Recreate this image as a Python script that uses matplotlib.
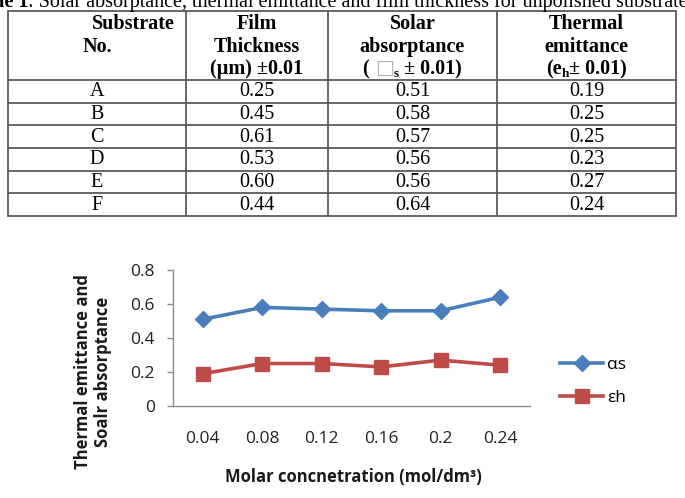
import matplotlib
matplotlib.use("Agg")
import matplotlib.pyplot as plt

# ---- data ----
substrates = ["A", "B", "C", "D", "E", "F"]
thickness = ["0.25", "0.45", "0.61", "0.53", "0.60", "0.44"]
absorptance_txt = ["0.51", "0.58", "0.57", "0.56", "0.56", "0.64"]
emittance_txt = ["0.19", "0.25", "0.25", "0.23", "0.27", "0.24"]

concentrations = ["0.04", "0.08", "0.12", "0.16", "0.2", "0.24"]
alpha_s = [0.51, 0.58, 0.57, 0.56, 0.56, 0.64]
eps_h = [0.19, 0.25, 0.25, 0.23, 0.27, 0.24]
yticks = [0, 0.2, 0.4, 0.6, 0.8]
ytick_labels = ["0", "0.2", "0.4", "0.6", "0.8"]

W, H = 685, 498
fig = plt.figure(figsize=(W / 100, H / 100), dpi=100)
fig.patch.set_facecolor("white")

tax = fig.add_axes([0, 0, 1, 1])
tax.set_xlim(0, W)
tax.set_ylim(H, 0)
tax.axis("off")

SERIF = ["Liberation Serif", "DejaVu Serif"]
FS = 14.5
renderer = fig.canvas.get_renderer()


def seg_text(xc, yb, segments):
    """segments: list of (text, dict(kwargs), dy)"""
    objs = []
    widths = []
    for s, kw, dy in segments:
        t = tax.text(0, yb + dy, s, va="baseline", ha="left", **kw)
        objs.append(t)
        widths.append(t.get_window_extent(renderer).width)
    total = sum(widths)
    x = xc - total / 2
    for t, w in zip(objs, widths):
        t.set_x(x)
        x += w


# ---- caption (clipped at top) ----
tax.text(28, 7, "Table 1", fontsize=FS, fontweight="bold", family=SERIF,
         ha="right", va="baseline")
tax.text(28, 7, ": Solar absorptance, thermal emittance and film thickness for unpolished substrates",
         fontsize=FS, family=SERIF, ha="left", va="baseline")

# ---- table ----
cols = [8, 186, 328, 497, 676]
top, head_bot = 11, 80
row_h = (216 - 80) / 6
bottom = head_bot + row_h * 6
lc = "#5a5a5a"
lw = 1.3
for x in cols:
    tax.plot([x, x], [top, bottom], color=lc, lw=lw, solid_capstyle="butt")
tax.plot([cols[0], cols[-1]], [top, top], color=lc, lw=lw)
for i in range(7):
    y = head_bot + row_h * i
    tax.plot([cols[0], cols[-1]], [y, y], color=lc, lw=lw)

centers = [(cols[i] + cols[i + 1]) / 2 for i in range(4)]
hb = dict(fontsize=FS, fontweight="bold", family=SERIF)
tax.text(133, 29, "Substrate", ha="center", va="baseline", **hb)
tax.text(centers[0], 52, "No.", ha="center", va="baseline", **hb)
tax.text(centers[1], 29, "Film", ha="center", va="baseline", **hb)
tax.text(centers[1], 52, "Thickness", ha="center", va="baseline", **hb)
tax.text(centers[1], 74, "(µm) ±0.01", ha="center", va="baseline", **hb)
tax.text(centers[2], 29, "Solar", ha="center", va="baseline", **hb)
tax.text(centers[2], 52, "absorptance", ha="center", va="baseline", **hb)
sub = dict(fontsize=FS * 0.65, fontweight="bold", family=SERIF)
seg_text(centers[2], 74, [("( ", hb, 0),
                          ("□", dict(fontsize=FS, family=["DejaVu Sans"], color="#b0b0b0"), 0),
                          ("s", sub, 3),
                          (" ± 0.01)", hb, 0)])
tax.text(centers[3], 29, "Thermal", ha="center", va="baseline", **hb)
tax.text(centers[3], 52, "emittance", ha="center", va="baseline", **hb)
seg_text(centers[3], 74, [("(e", hb, 0), ("h", sub, 3), ("± 0.01)", hb, 0)])

cells = list(zip(substrates, thickness, absorptance_txt, emittance_txt))
for i, row in enumerate(cells):
    yc = head_bot + row_h * (i + 0.5)
    for j, val in enumerate(row):
        tax.text(centers[j], yc + 0.5, val, fontsize=FS, family=SERIF, ha="center", va="center")

# ---- chart ----
SANS = ["Open Sans", "DejaVu Sans"]
ax = fig.add_axes([173 / W, 1 - 406 / H, 357 / W, (406 - 270) / H])
ax.set_facecolor("none")
xs = list(range(len(concentrations)))
blue = "#4A7EBB"
red = "#BE4B48"
ax.plot(xs, alpha_s, color=blue, lw=2.6, marker="D", markersize=8.5,
        label="αs", clip_on=False)
ax.plot(xs, eps_h, color=red, lw=2.6, marker="s", markersize=10,
        label="εh", clip_on=False)
ax.set_xlim(-0.5, len(xs) - 0.5)
ax.set_ylim(0, 0.8)
ax.set_xticks(xs)
ax.set_xticklabels(concentrations, family=SANS, fontsize=12.5)
ax.set_yticks(yticks)
ax.set_yticklabels(ytick_labels, family=SANS, fontsize=12.5)
for sp in ["top", "right"]:
    ax.spines[sp].set_visible(False)
for sp in ["left", "bottom"]:
    ax.spines[sp].set_color("#8c8c8c")
    ax.spines[sp].set_linewidth(1.0)
ax.tick_params(axis="x", length=0, pad=18, colors="#222222")
ax.tick_params(axis="y", length=4, width=1.0, color="#8c8c8c", pad=9, labelcolor="#222222")

tax.text(83, 372, "Thermal emittance and", rotation=90, ha="center", va="center",
         family=SANS, fontsize=12, fontweight="bold", color="#1a1a1a")
tax.text(103, 372, "Soalr absorptance", rotation=90, ha="center", va="center",
         family=SANS, fontsize=12, fontweight="bold", color="#1a1a1a")
tax.text(353, 477, "Molar concnetration (mol/dm³)", ha="center", va="center",
         family=SANS, fontsize=12, fontweight="bold", color="#1a1a1a")

fig.legend(loc="center left", bbox_to_anchor=(560 / W, 1 - 381.5 / H),
           frameon=False, borderpad=0, borderaxespad=0, handlelength=2.5,
           handletextpad=0.2, labelspacing=0.95, prop={"family": SANS, "size": 12.5})

fig.savefig("out.png", dpi=100, facecolor="white")
